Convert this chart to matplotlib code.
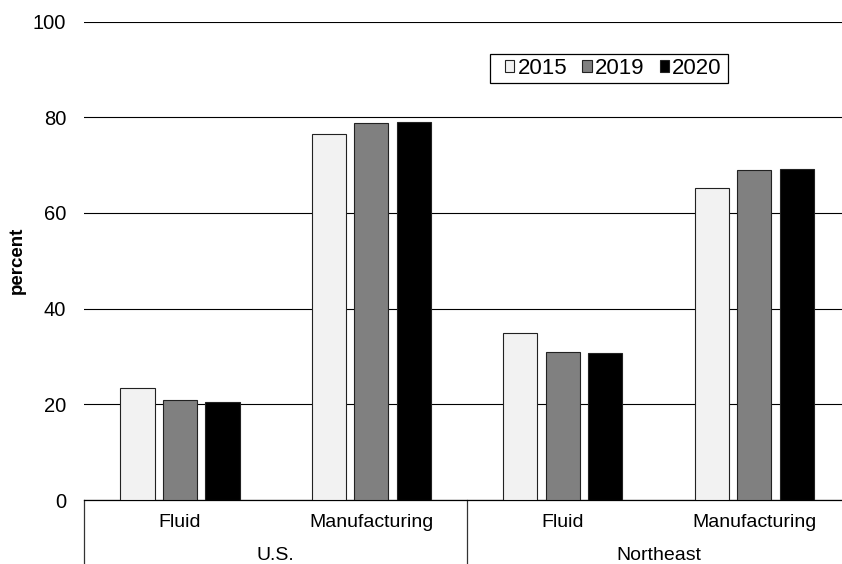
# -*- coding: utf-8 -*-

import matplotlib
matplotlib.use('Agg')
import matplotlib.pyplot as plt
from matplotlib.patches import Rectangle
import numpy as np

# data
categories = ['Fluid', 'Manufacturing', 'Fluid', 'Manufacturing']
regions = ['U.S.', 'Northeast']
years = ['2015', '2019', '2020']
v2015 = [23.5, 76.4, 34.8, 65.1]
v2019 = [21.0, 78.7, 31.0, 68.9]
v2020 = [20.5, 79.1, 30.7, 69.1]

colors = ['#f2f2f2', '#808080', '#000000']

plt.rcParams['font.family'] = ['Liberation Sans', 'DejaVu Sans']

fig = plt.figure(figsize=(8.42, 5.64), dpi=100)
# plot area runs slightly past the right edge, like the original
ax = fig.add_axes([84.3 / 842, 64 / 564, 765.7 / 842, 478.5 / 564])

x = np.arange(len(categories))
width = 0.178
step = 0.222
for j, (vals, yr) in enumerate(zip([v2015, v2019, v2020], years)):
    ax.bar(x + (j - 1) * step, vals, width, color=colors[j], edgecolor='#222222',
           linewidth=0.8, label=yr, zorder=3)

ax.set_xlim(-0.5, 3.5)
ax.set_ylim(0, 100)
ax.set_yticks([0, 20, 40, 60, 80, 100])
ax.yaxis.grid(True, color='#000000', linewidth=0.8, zorder=0)
ax.set_axisbelow(True)
ax.tick_params(axis='y', length=0, labelsize=14.5, pad=13)
ax.set_xticks([])
for s in ['left', 'right', 'top']:
    ax.spines[s].set_visible(False)
ax.spines['bottom'].set_color('black')
ax.spines['bottom'].set_linewidth(0.9)

# two-level category axis
tr = ax.get_xaxis_transform()
for i, c in enumerate(categories):
    ax.text(i, -0.048, c, transform=tr, ha='center', va='center', fontsize=14)
for k, r in enumerate(regions):
    ax.text(2 * k + 0.5, -0.117, r, transform=tr, ha='center', va='center', fontsize=14)
for xv in [-0.5, 1.5, 3.5]:
    ax.plot([xv, xv], [0, -0.2], transform=tr, color='#333333', linewidth=0.9,
            clip_on=False)

fig.text(17 / 842, 1 - 260 / 564, 'percent', rotation=90, fontweight='bold',
         fontsize=13.5, ha='center', va='center')

# legend box drawn by hand, entries placed inside it
box = Rectangle((490 / 842, 1 - 83 / 564), 238 / 842, 29 / 564,
                transform=fig.transFigure, facecolor='white',
                edgecolor='black', linewidth=0.9, zorder=5)
fig.patches.append(box)
handles, labels = ax.get_legend_handles_labels()
leg = fig.legend(handles, labels, loc='center left',
                 bbox_to_anchor=(505 / 842, 1 - 68.5 / 564),
                 bbox_transform=fig.transFigure, ncol=3, fontsize=16,
                 frameon=False, borderaxespad=0, borderpad=0,
                 handlelength=0.42, handleheight=0.42, handletextpad=0.15,
                 columnspacing=0.68)
leg.set_zorder(6)

plt.savefig('out.png', dpi=100)
